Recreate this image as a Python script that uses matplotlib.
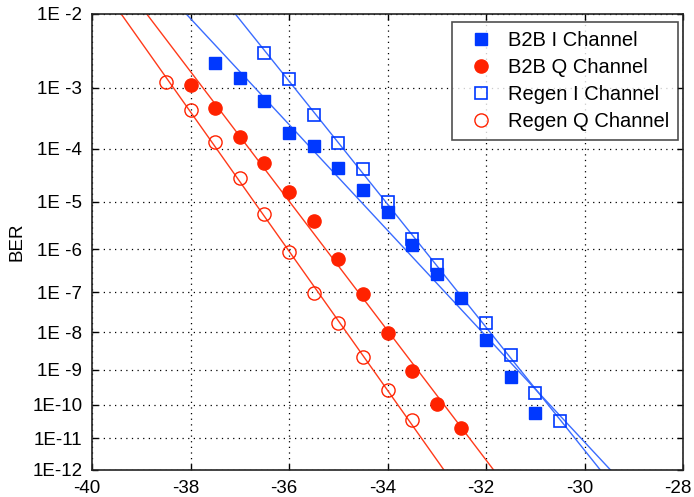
import math
import numpy as np
import matplotlib
matplotlib.use('Agg')
import matplotlib.pyplot as plt
from matplotlib.ticker import FixedLocator, FixedFormatter, NullLocator
from matplotlib.transforms import ScaledTranslation

# received power (dBm) and measured BER for each channel
power_b2b_i = [-37.5, -37, -36.5, -36, -35.5, -35, -34.5, -34, -33.5, -33, -32.5, -32, -31.5, -31]
ber_b2b_i = [2.3e-3, 1.4e-3, 6.3e-4, 1.9e-4, 1.13e-4, 4.5e-5, 1.7e-5, 6.3e-6, 1.2e-6, 2.7e-7,
             7.2e-8, 6.2e-9, 6.1e-10, 5.8e-11]

power_b2b_q = [-38, -37.5, -37, -36.5, -36, -35.5, -35, -34.5, -34, -33.5, -33, -32.5]
ber_b2b_q = [1.1e-3, 4.8e-4, 1.63e-4, 5.5e-5, 1.58e-5, 4.1e-6, 6.0e-7, 9.1e-8, 9.4e-9, 9.3e-10,
             1.06e-10, 2.1e-11]

power_regen_i = [-36.5, -36, -35.5, -35, -34.5, -34, -33.5, -33, -32, -31.5, -31, -30.5]
ber_regen_i = [3.2e-3, 1.36e-3, 3.8e-4, 1.26e-4, 4.3e-5, 1.0e-5, 1.65e-6, 4.4e-7, 1.7e-8, 2.5e-9,
               2.2e-10, 3.3e-11]

power_regen_q = [-38.5, -38, -37.5, -37, -36.5, -36, -35.5, -35, -34.5, -34, -33.5]
ber_regen_q = [1.24e-3, 4.5e-4, 1.34e-4, 2.9e-5, 5.6e-6, 8.6e-7, 9.4e-8, 1.7e-8, 2.2e-9, 2.6e-10,
               3.6e-11]

ber_ticks = [1e-2, 1e-3, 1e-4, 1e-5, 1e-6, 1e-7, 1e-8, 1e-9, 1e-10, 1e-11, 1e-12]
power_ticks = [-40, -38, -36, -34, -32, -30, -28]

BLUE = '#0038ff'
BLUE_LINE = '#3a6cff'
RED = '#ff2200'
RED_LINE = '#ff3a1a'


# the BER axis is drawn on a Q-factor scale (inverse gaussian tail)
def norm_ppf(p):
    p = np.clip(np.asarray(p, dtype=float), 1e-300, 1 - 1e-16)
    a = [-3.969683028665376e+01, 2.209460984245205e+02, -2.759285104469687e+02,
         1.383577518672690e+02, -3.066479806614716e+01, 2.506628277459239e+00]
    b = [-5.447609879822406e+01, 1.615858368580409e+02, -1.556989798598866e+02,
         6.680131188771972e+01, -1.328068155833038e+01]
    c = [-7.784894002430293e-03, -3.223964580411365e-01, -2.400758277161838e+00,
         -2.549732539343734e+00, 4.374664141464968e+00, 2.938163982698783e+00]
    d = [7.784695709041462e-03, 3.224671290700398e-01, 2.445134137142996e+00,
         3.754408661907416e+00]
    plow = 0.02425
    with np.errstate(all='ignore'):
        q = np.sqrt(-2 * np.log(np.minimum(p, 1 - p)))
        tail = (((((c[0]*q + c[1])*q + c[2])*q + c[3])*q + c[4])*q + c[5]) / \
               ((((d[0]*q + d[1])*q + d[2])*q + d[3])*q + 1)
        qc = p - 0.5
        r = qc * qc
        mid = (((((a[0]*r + a[1])*r + a[2])*r + a[3])*r + a[4])*r + a[5]) * qc / \
              (((((b[0]*r + b[1])*r + b[2])*r + b[3])*r + b[4])*r + 1)
    out = np.where(p < plow, tail, np.where(p > 1 - plow, -tail, mid))
    return out


_erfc = np.vectorize(math.erfc, otypes=[float])


def ber_from_q(v):
    return 0.5 * _erfc(-np.asarray(v, dtype=float) / math.sqrt(2))


plt.rcParams['font.family'] = ['Liberation Sans', 'DejaVu Sans']
plt.rcParams['axes.unicode_minus'] = False

fig = plt.figure(figsize=(6.94, 4.97), dpi=100)
ax = fig.add_axes([92 / 694, 27 / 497, 591 / 694, 456 / 497])
ax.set_yscale('function', functions=(norm_ppf, ber_from_q))

series = [
    ('B2B I Channel', power_b2b_i, ber_b2b_i, dict(marker='s', ms=8, mfc=BLUE, mec=BLUE), BLUE_LINE),
    ('B2B Q Channel', power_b2b_q, ber_b2b_q, dict(marker='o', ms=9.5, mfc=RED, mec=RED), RED_LINE),
    ('Regen I Channel', power_regen_i, ber_regen_i,
     dict(marker='s', ms=8, mfc='none', mec=BLUE, mew=1.2), BLUE_LINE),
    ('Regen Q Channel', power_regen_q, ber_regen_q,
     dict(marker='o', ms=9.5, mfc='none', mec=RED, mew=1.0), RED_LINE),
]

x_fit = np.array([-40.0, -28.0])
for label, xs, ys, style, lc in series:
    # straight line fit in the Q domain
    k, b0 = np.polyfit(xs, norm_ppf(ys), 1)
    ax.plot(x_fit, ber_from_q(k * x_fit + b0), color=lc, lw=1.0, zorder=2)
    ax.plot(xs, ys, linestyle='none', label=label, zorder=3, **style)

ax.set_xlim(-40, -28)
ax.set_ylim(1e-12, 1e-2)
ax.xaxis.set_major_locator(FixedLocator(power_ticks))
ax.yaxis.set_major_locator(FixedLocator(ber_ticks))
ax.yaxis.set_major_formatter(FixedFormatter(['1E%3d' % round(math.log10(t)) for t in ber_ticks]))
ax.yaxis.set_minor_locator(NullLocator())
ax.xaxis.set_minor_locator(NullLocator())

ax.grid(True, color='black', linestyle=(0, (1, 3.5)), linewidth=0.9)
ax.tick_params(direction='in', length=4, width=1, top=True, right=True,
               labelsize=13.5, pad=7, colors='black')
for s in ax.spines.values():
    s.set_linewidth(1.2)
    s.set_color('#222222')

ax.set_ylabel('BER', fontsize=13.5, labelpad=5)

leg = ax.legend(loc='upper right', bbox_to_anchor=(0.9915, 0.9825), borderaxespad=0,
                fontsize=14.5, frameon=True, fancybox=False, edgecolor='#222222',
                handlelength=2.1, handletextpad=0.27, labelspacing=0.41, borderpad=0.43)
leg.get_frame().set_linewidth(1.2)

# x labels in the original sit a few pixels left of their ticks
fig.canvas.draw()
shift = ScaledTranslation(-5 / 100, 0, fig.dpi_scale_trans)
for lbl in ax.get_xticklabels():
    lbl.set_transform(lbl.get_transform() + shift)

fig.savefig('out.png', dpi=100)
